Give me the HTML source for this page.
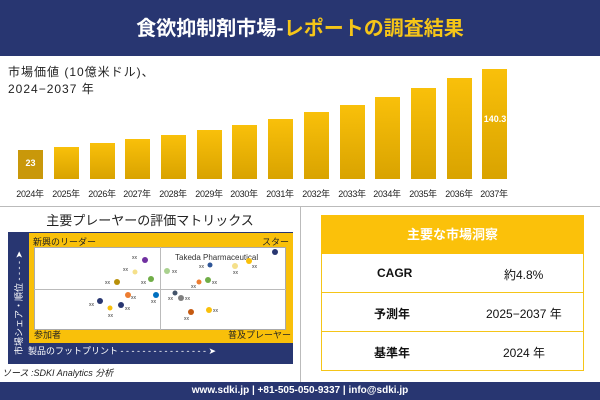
<!DOCTYPE html>
<html><head><meta charset="utf-8"><style>
*{margin:0;padding:0;box-sizing:border-box}
body{width:600px;height:400px;background:#fff;position:relative;overflow:hidden;font-family:"Liberation Sans","Noto Sans CJK JP",sans-serif}
.a{position:absolute}
.bar{position:absolute;width:25px;bottom:221px;background:linear-gradient(#f9c00a,#d9a300)}
.yl{position:absolute;top:187px;font-size:9px;color:#222;width:36px;text-align:center;letter-spacing:-0.3px}
.row{position:absolute;left:321px;width:263px;height:39px;border:1px solid #f5c518;border-top:none;font-size:12px;color:#111}
.row span{position:absolute;top:12px}
</style></head><body>
<div class="a" style="left:0;top:0;width:600px;height:56px;background:#283671"></div>
<div class="a" style="left:0;top:12px;width:600px;text-align:center;font-size:20px;font-weight:bold;color:#fff;font-family:'Noto Sans CJK JP',sans-serif">食欲抑制剤市場-<span style="color:#f5c518">レポートの調査結果</span></div>
<div class="a" style="left:8px;top:64px;font-size:12px;color:#222;line-height:17px;letter-spacing:1px">市場価値 (10億米ドル)、<br>2024−2037 年</div>
<div class="bar" style="left:18px;height:29px;background:#c9980a"></div>
<div class="bar" style="left:54px;height:32px"></div>
<div class="bar" style="left:90px;height:36px"></div>
<div class="bar" style="left:125px;height:40px"></div>
<div class="bar" style="left:161px;height:44px"></div>
<div class="bar" style="left:197px;height:49px"></div>
<div class="bar" style="left:232px;height:54px"></div>
<div class="bar" style="left:268px;height:60px"></div>
<div class="bar" style="left:304px;height:67px"></div>
<div class="bar" style="left:340px;height:74px"></div>
<div class="bar" style="left:375px;height:82px"></div>
<div class="bar" style="left:411px;height:91px"></div>
<div class="bar" style="left:447px;height:101px"></div>
<div class="bar" style="left:482px;height:110px"></div>
<div class="a" style="left:18px;top:158px;width:25px;text-align:center;color:#fff;font-size:9px;font-weight:bold">23</div>
<div class="a" style="left:480px;top:114px;width:30px;text-align:center;color:#fff;font-size:9px;font-weight:bold">140.3</div>
<div class="yl" style="left:12px">2024年</div><div class="yl" style="left:48px">2025年</div><div class="yl" style="left:84px">2026年</div><div class="yl" style="left:119px">2027年</div><div class="yl" style="left:155px">2028年</div><div class="yl" style="left:191px">2029年</div><div class="yl" style="left:226px">2030年</div><div class="yl" style="left:262px">2031年</div><div class="yl" style="left:298px">2032年</div><div class="yl" style="left:334px">2033年</div><div class="yl" style="left:369px">2034年</div><div class="yl" style="left:405px">2035年</div><div class="yl" style="left:441px">2036年</div><div class="yl" style="left:476px">2037年</div>
<div class="a" style="left:0;top:206px;width:600px;height:1px;background:#bbb"></div>
<div class="a" style="left:300px;top:206px;width:1px;height:176px;background:#bbb"></div>
<div class="a" style="left:0;top:210px;width:300px;text-align:center;font-size:13px;color:#222">主要プレーヤーの評価マトリックス</div>
<div class="a" style="left:8px;top:232px;width:285px;height:132px;background:#283671"></div>
<div class="a" style="left:29px;top:233px;width:264px;height:110px;background:#f9c00a"></div>
<div class="a" style="left:34px;top:247px;width:252px;height:83px;background:#fff;border:1px solid #aaa"></div>
<div class="a" style="left:160px;top:247px;width:1px;height:83px;background:#bbb"></div>
<div class="a" style="left:34px;top:289px;width:252px;height:1px;background:#bbb"></div>
<div class="a" style="left:33px;top:235px;font-size:9px;color:#222">新興のリーダー</div>
<div class="a" style="left:262px;top:235px;font-size:9px;color:#222">スター</div>
<div class="a" style="left:34px;top:328px;font-size:9px;color:#222">参加者</div>
<div class="a" style="left:228px;top:328px;font-size:9px;color:#222">普及プレーヤー</div>
<div class="a" style="left:28px;top:344px;font-size:9px;color:#fff">製品のフットプリント - - - - - - - - - - - - - - - - ➤</div>
<div class="a" style="left:12px;top:355px;font-size:9px;color:#fff;transform:rotate(-90deg);transform-origin:0 0;white-space:nowrap">市場シェア・順位 - - - - ➤</div>
<div class="a" style="left:175px;top:253px;font-size:8px;color:#333">Takeda Pharmaceutical</div>
<svg class="a" style="left:0;top:0" width="300" height="400" font-size="5" fill="#333">
<g>
<circle cx="145" cy="260" r="3" fill="#7030a0"/><circle cx="135" cy="272" r="2.5" fill="#f5e08a"/><circle cx="117" cy="282" r="3" fill="#b8900a"/><circle cx="151" cy="279" r="3" fill="#70ad47"/>
<circle cx="167" cy="271" r="3" fill="#a9d18e"/><circle cx="210" cy="265" r="2.5" fill="#2f5597"/><circle cx="235" cy="266" r="3" fill="#f5e08a"/><circle cx="249" cy="261" r="3" fill="#f9c00a"/><circle cx="275" cy="252" r="3" fill="#283671"/>
<circle cx="199" cy="282" r="2.5" fill="#ed7d31"/><circle cx="208" cy="280" r="3" fill="#70ad47"/>
<circle cx="128" cy="295" r="3" fill="#ed7d31"/><circle cx="156" cy="295" r="3" fill="#0070c0"/><circle cx="100" cy="301" r="3" fill="#283671"/><circle cx="110" cy="308" r="2.5" fill="#f9c00a"/><circle cx="121" cy="305" r="3" fill="#283671"/>
<circle cx="175" cy="293" r="2.5" fill="#44546a"/><circle cx="181" cy="298" r="3" fill="#808080"/><circle cx="191" cy="312" r="3" fill="#c55a11"/><circle cx="209" cy="310" r="3" fill="#f9c00a"/>
</g>
<text x="132" y="259">xx</text><text x="123" y="271">xx</text><text x="105" y="284">xx</text><text x="141" y="284">xx</text><text x="172" y="273">xx</text><text x="199" y="268">xx</text><text x="233" y="274">xx</text><text x="252" y="268">xx</text><text x="191" y="288">xx</text><text x="212" y="284">xx</text><text x="131" y="299">xx</text><text x="151" y="303">xx</text><text x="89" y="306">xx</text><text x="108" y="317">xx</text><text x="125" y="310">xx</text><text x="168" y="300">xx</text><text x="185" y="300">xx</text><text x="184" y="320">xx</text><text x="213" y="312">xx</text>
</svg>
<div class="a" style="left:2px;top:366px;font-size:9px;font-style:italic;color:#222">ソース :SDKI Analytics 分析</div>
<div class="a" style="left:321px;top:215px;width:263px;height:39px;background:#fbc10a;color:#fff;font-size:13px;font-weight:bold;text-align:center;line-height:39px">主要な市場洞察</div>
<div class="row" style="top:254px"><span style="left:55px;font-weight:bold">CAGR</span><span style="left:182px">約4.8%</span></div>
<div class="row" style="top:293px"><span style="left:52px;font-weight:bold">予測年</span><span style="left:164px">2025−2037 年</span></div>
<div class="row" style="top:332px"><span style="left:52px;font-weight:bold">基準年</span><span style="left:181px">2024 年</span></div>
<div class="a" style="left:0;top:382px;width:600px;height:18px;background:#283671;color:#fff;font-size:10px;font-weight:bold;text-align:center;line-height:18px">www.sdki.jp | +81-505-050-9337 | info@sdki.jp</div>
</body></html>
